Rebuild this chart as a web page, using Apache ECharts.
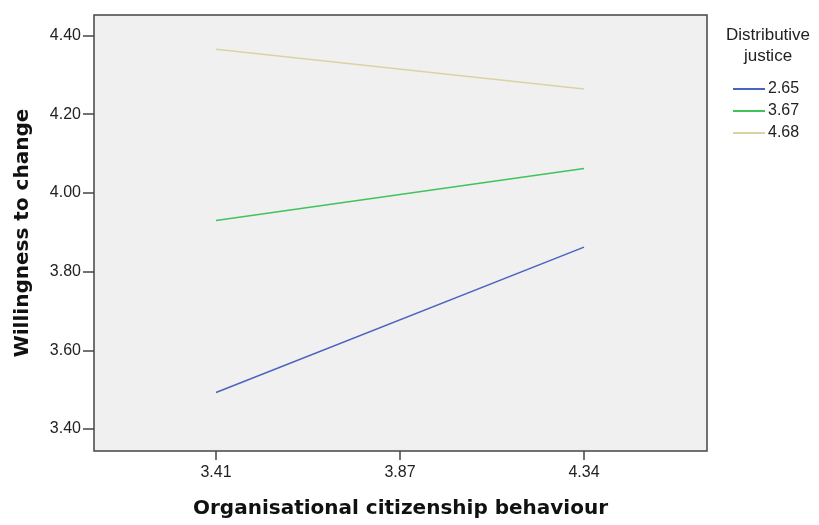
<!DOCTYPE html>
<html>
<head>
<meta charset="utf-8">
<script src="https://cdn.jsdelivr.net/npm/echarts@6/dist/echarts.min.js"></script>
<style>
  html, body { margin: 0; padding: 0; background: #ffffff; }
  #chart { width: 819px; height: 525px; }
</style>
</head>
<body>
<div id="chart"></div>
<script>
// Moderator levels (Distributive justice) and their estimated lines
const groups = ['2.65', '3.67', '4.68'];
const groupColors = ['#4a63c0', '#3fc45a', '#d9d3a3'];

// Organisational citizenship behaviour: low / mean / high
const xValues = [3.41, 3.875, 4.34];
const xTickLabels = ['3.41', '3.87', '4.34'];
const xLine = [3.41, 4.34];

// Willingness to change at low and high OCB
const wtcLow = [3.4925, 3.862];
const wtcMid = [3.930, 4.062];
const wtcHigh = [4.365, 4.264];
const seriesValues = [wtcLow, wtcMid, wtcHigh];

const yTicks = [3.4, 3.6, 3.8, 4.0, 4.2, 4.4];

const font = '"Liberation Sans", Arial, sans-serif';
const titleFont = '"DejaVu Sans", Verdana, sans-serif';

const chart = echarts.init(document.getElementById('chart'), null, { renderer: 'canvas' });

chart.setOption({
  animation: false,
  backgroundColor: '#ffffff',
  grid: {
    left: 94, top: 15, right: 112, bottom: 74,
    outerBoundsMode: 'none',
    containLabel: false,
    show: true,
    backgroundColor: '#f0f0f0',
    borderColor: '#444444',
    borderWidth: 1.5
  },
  xAxis: {
    type: 'value',
    min: 3.1017,
    max: 4.6508,
    name: 'Organisational citizenship behaviour',
    nameLocation: 'middle',
    nameGap: 48,
    nameTextStyle: { fontFamily: titleFont, fontWeight: 'bold', fontSize: 20, color: '#111' },
    axisLine: { show: false },
    splitLine: { show: false },
    axisTick: { show: true, length: 9, lineStyle: { color: '#444', width: 1.5 }, customValues: xValues },
    axisLabel: {
      customValues: xValues,
      margin: 14,
      fontFamily: font, fontSize: 16, color: '#222',
      formatter: function (v) {
        const i = xValues.findIndex(function (x) { return Math.abs(x - v) < 1e-6; });
        return i >= 0 ? xTickLabels[i] : '';
      }
    }
  },
  yAxis: {
    type: 'value',
    min: 3.344,
    max: 4.452,
    name: 'Willingness to change',
    nameLocation: 'middle',
    nameGap: 61,
    nameTextStyle: { fontFamily: titleFont, fontWeight: 'bold', fontSize: 20, color: '#111' },
    axisLine: { show: false },
    splitLine: { show: false },
    axisTick: { show: true, length: 11, lineStyle: { color: '#444', width: 1.5 }, customValues: yTicks },
    axisLabel: {
      customValues: yTicks,
      margin: 13,
      fontFamily: font, fontSize: 16, color: '#222',
      formatter: function (v) { return v.toFixed(2); }
    }
  },
  legend: {
    orient: 'vertical',
    left: 733,
    top: 81,
    padding: 0,
    itemWidth: 32,
    itemHeight: 2,
    itemGap: 6,
    icon: 'rect',
    textStyle: { fontFamily: font, fontSize: 16, lineHeight: 16, color: '#222', padding: [0, 0, 0, -2] },
    data: groups
  },
  graphic: [{
    type: 'text',
    x: 768,
    y: 25,
    style: {
      text: 'Distributive\njustice',
      align: 'center',
      fontFamily: font,
      fontSize: 17,
      lineHeight: 21,
      fill: '#222'
    }
  }],
  series: groups.map(function (g, i) {
    return {
      name: g,
      type: 'line',
      symbol: 'none',
      data: xLine.map(function (x, j) { return [x, seriesValues[i][j]]; }),
      lineStyle: { color: groupColors[i], width: 1.5 },
      itemStyle: { color: groupColors[i] }
    };
  })
});
</script>
</body>
</html>
